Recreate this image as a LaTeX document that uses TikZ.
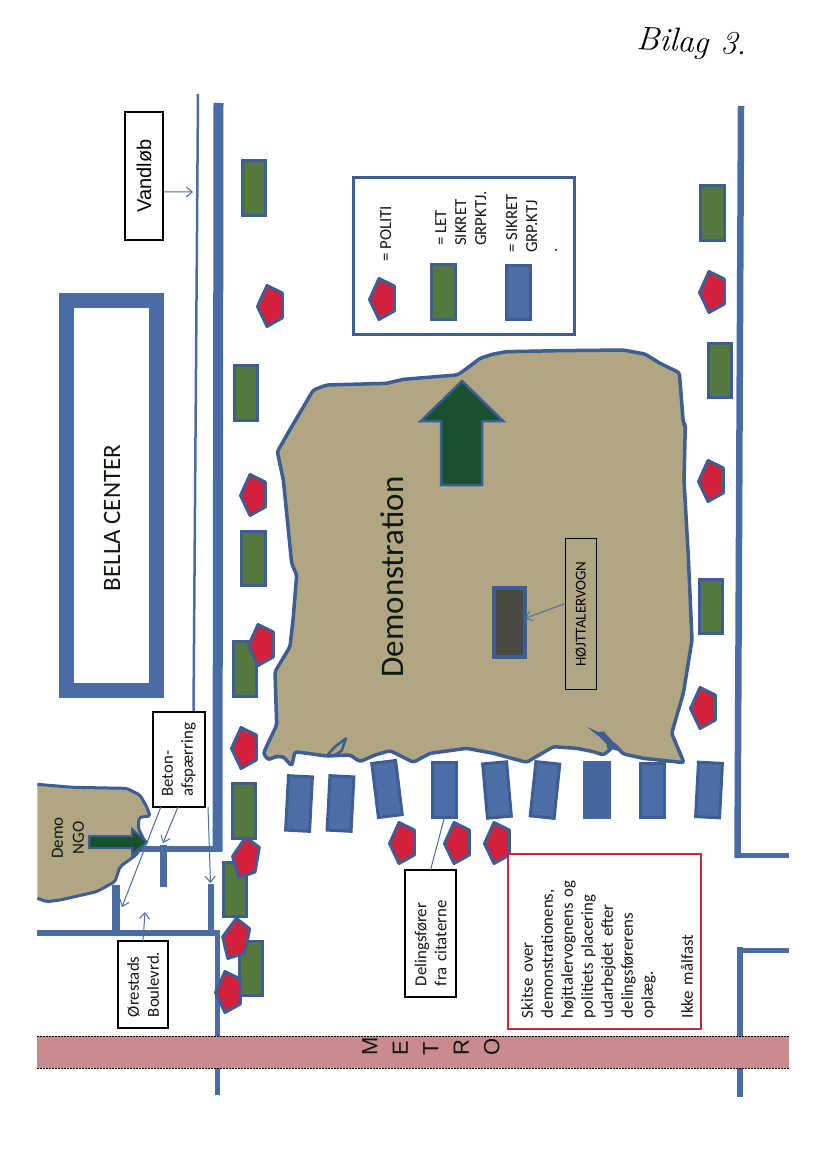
\documentclass[tikz,border=0pt]{standalone}
\usepackage{fontspec}
\setmainfont{Carlito}
\newfontfamily\arialfont{Liberation Sans}
\newfontfamily\handfont{Latin Modern Roman}
\usetikzlibrary{arrows.meta,calc}
\definecolor{bdr}{HTML}{3D5E94}
\definecolor{roadc}{HTML}{4A6CA6}
\definecolor{bluef}{HTML}{4E6EA9}
\definecolor{bluedk}{HTML}{46679D}
\definecolor{greenf}{HTML}{55783F}
\definecolor{redf}{HTML}{D4203A}
\definecolor{khaki}{HTML}{B0A782}
\definecolor{pinkf}{HTML}{C98B8E}
\definecolor{spkf}{HTML}{4A4A40}
\definecolor{arrowg}{HTML}{17512D}
\definecolor{redb}{HTML}{C5283F}
\definecolor{textd}{HTML}{10180F}
\tikzset{
  x=1pt,y=-1pt,
  road/.style={draw=roadc,line cap=butt},
  grn/.style={draw=bdr,fill=greenf,line width=3,minimum width=23.5,minimum height=54.5,inner sep=0,outer sep=0},
  blu/.style={draw=bdr,fill=bluef,line width=3,minimum width=24,minimum height=54.5,inner sep=0,outer sep=0},
  thinl/.style={draw=roadc,line width=1},
  thina/.style={draw=roadc,line width=1,-{Straight Barb[length=6pt,width=10pt]}},
  tbox/.style={draw=black,line width=1.5,fill=white,rotate=90,inner sep=0,outer sep=0,align=left,text=textd},
  body/.style={font=\fontsize{16.8}{20}\selectfont},
  pol/.pic={\draw[draw=bdr,fill=redf,line width=3,line join=round]
     (-3,-20.5)--(12.3,-13)--(12.3,12)--(-3,20.5)--(-12.5,0.5)--cycle;},
  blob/.style={draw=bdr,fill=khaki,line width=3.5,line join=round,rounded corners=2.5pt},
}
\begin{document}
\begin{tikzpicture}[x=1pt,y=-1pt]
\useasboundingbox (0,0) rectangle (826,1169);
\fill[white] (0,0) rectangle (826,1169);

% handwritten heading
\node[font=\handfont\itshape\fontsize{33}{33}\selectfont,text=black,rotate=-3] (bilag) at (692,44) {Bilag 3.};

% streets
\draw[road,line width=2.5] (198,94) -- (193.5,712);
\draw[road,line width=10] (218.5,103) -- (217.5,851);
\draw[road,line width=6] (137,849) -- (222,849);
\draw[road,line width=7] (163.5,845) -- (163.5,887);
\draw[road,line width=6.5] (211,884) -- (211,932);
\draw[road,line width=8] (116,885) -- (116,932);
\draw[road,line width=6] (37,933) -- (220,933);
\draw[road,line width=5] (217.5,930) -- (217.5,1095);
\draw[road,line width=6.5] (741,106) -- (737.5,858);
\draw[road,line width=5] (734.5,855.5) -- (789,855.5);
\draw[road,line width=6] (740,947) -- (740,1097);
\draw[road,line width=5] (737,950) -- (789,950);

% metro
\fill[pinkf] (37,1036) rectangle (789,1068);
\draw[black,line width=1,dash pattern=on 2pt off 1pt] (37,1036) -- (789,1036);
\draw[black,line width=1,dash pattern=on 2pt off 1pt] (37,1068) -- (789,1068);
\node[rotate=90,font=\arialfont\fontsize{22}{30.5}\selectfont,align=left,inner sep=0,text=textd] (metro) at (431,1046.5) {M\\E\\T\\R\\O};

% Bella Center
\node[draw=roadc,fill=white,line width=15,minimum width=90,minimum height=390,inner sep=0,outer sep=0] (bellaframe) at (111,495.5) {};
\node[rotate=90,font=\fontsize{25}{30}\selectfont,text=textd] (bella) at (112,518) {BELLA CENTER};

% Vandlob
\node[draw=black,line width=2,fill=white,rotate=90,minimum width=127,minimum height=38,inner sep=0,outer sep=0,font=\arialfont\fontsize{20}{24}\selectfont,text=black] (vand) at (144,176) {Vandløb};
\coordinate (vandt) at (193,192);
\draw[thina] ($(vand.south west)!0.375!(vand.south east)$) -- (vandt);

% main demonstration
\begin{scope}[shift={(260,330)},x=0.33333pt,y=-0.33333pt]
\draw[blob] (600,130)--(630,108)--(660,85)--(700,72)--(740,65)--(900,62)--(1090,60)--(1155,72)--(1200,100)--(1258,128)
  --(1270,280)--(1276,285)--(1272,450)--(1285,680)--(1296,930)--(1270,1090)--(1235,1210)--(1272,1298)
  --(1150,1285)--(1090,1272)--(1060,1240)--(1040,1250)--(1055,1255)--(1030,1275)--(1000,1265)--(950,1255)--(880,1250)--(800,1297)
  --(700,1270)--(620,1255)--(510,1270)--(460,1297)--(390,1262)--(345,1275)--(300,1295)--(270,1275)--(200,1278)--(105,1265)
  --(95,1308)--(70,1280)--(45,1280)--(25,1290)--(10,1270)--(50,1185)--(45,1025)--(90,950)--(100,860)--(110,735)--(95,700)--(85,600)--(70,450)--(52,365)--(95,290)--(160,180)
  --(200,165)--(380,160)--(430,148)--(590,135)--cycle;
\fill[bdr] (980,1190)--(1012,1205)--(1032,1205)--(1085,1265)--(1055,1258)--(1020,1222)--cycle;
\draw[bdr,line width=2.5,line join=round] (200,1278)--(225,1250)--(258,1225)--(245,1262)--(220,1278);
\end{scope}

% big arrow
\draw[draw=bdr,fill=arrowg,line width=2.5,line join=miter] (462,381)--(503,421)--(482,421)--(482,485)--(441,485)--(441,421)--(421,421)--cycle;

% Demonstration text
\node[rotate=90,font=\fontsize{33}{40}\selectfont,text=textd] (demo) at (392,577) {Demonstration};

% speaker van
\node[draw=bdr,fill=spkf,line width=4,minimum width=31,minimum height=69,inner sep=0,outer sep=0] (spk) at (509.5,622.5) {};
\node[draw=black,line width=1,rotate=90,minimum width=151,minimum height=31,inner sep=0,outer sep=0,font=\fontsize{15}{18}\selectfont,text=black] (hoj) at (581,614) {HØJTTALERVOGN};
\draw[thina] ($(hoj.north east)!0.43!(hoj.north west)$) -- ($(spk.north east)!0.44!(spk.south east)$);

% Demo NGO
\begin{scope}[shift={(30,700)},x=0.33333pt,y=-0.33333pt]
\fill[khaki] (22,253)--(130,262)--(290,265)--(330,285)--(350,320)--(360,348)--(327,352)--(325,385)--(345,425)--(318,465)--(270,500)--(255,545)--(200,575)--(90,600)--(50,605)--(22,595)--cycle;
\draw[bdr,line width=3,line join=round,rounded corners=2pt] (22,253)--(130,262)--(290,265)--(330,285)--(350,320)--(360,348)--(327,352)--(325,385)--(345,425)--(318,465)--(270,500)--(255,545)--(200,575)--(90,600)--(50,605)--(22,595);
\end{scope}
\node[rotate=90,align=center,font=\fontsize{17}{21}\selectfont,text=textd,inner sep=0] (ngo) at (68,838) {Demo\\NGO};
\draw[draw=bdr,fill=arrowg,line width=2,line join=miter] (147,842)--(132,829)--(132,836)--(89,836)--(89,848)--(132,848)--(132,855)--cycle;

% green vehicles
\node[grn] (g1) at (254,188) {};
\node[grn] (g2) at (246,393) {};
\node[grn] (g3) at (253.5,558.5) {};
\node[grn] (g4) at (245,669) {};
\node[grn] (g5) at (244,811) {};
\node[grn] (g6) at (235,889.5) {};
\node[grn] (g7) at (251,968.5) {};
\node[grn] (g8) at (712.5,213) {};
\node[grn] (g9) at (720,370.5) {};
\node[grn] (g10) at (711,606.5) {};

% blue vehicles
\node[blu,rotate=-3] (b1) at (299,803.5) {};
\node[blu,rotate=-3] (b2) at (340.5,803.5) {};
\node[blu,rotate=7] (b3) at (387,789) {};
\node[blu] (b4) at (444.5,790) {};
\node[blu,rotate=5] (b5) at (497,790) {};
\node[blu,rotate=-6] (b6) at (545,790) {};
\node[fill=bluedk,minimum width=28,minimum height=58,inner sep=0,outer sep=0] (b7) at (597,790) {};
\node[blu] (b8) at (652.5,790.5) {};
\node[blu,rotate=-3] (b9) at (709,790) {};

% police
\pic at (270,306) {pol};
\pic at (253,495) {pol};
\pic at (261,645) {pol};
\pic at (244,748) {pol};
\pic[rotate=-10] at (245,858) {pol};
\pic[rotate=-12] at (235,939) {pol};
\pic at (228,992) {pol};
\pic at (402,843) {pol};
\pic at (457,843) {pol};
\pic at (497,843) {pol};
\pic at (712,292) {pol};
\pic at (711,481) {pol};
\pic at (703,708) {pol};

% legend
\node[draw=bdr,fill=white,line width=3,minimum width=221,minimum height=157,inner sep=0,outer sep=0] (legend) at (464,256) {};
\pic at (382,299) {pol};
\node[grn] (lg) at (443.5,292) {};
\node[blu] (lb) at (518,292.5) {};
\node[rotate=90,anchor=base west,body,inner sep=0,text=textd] (lt1) at (391,262) {= POLITI};
\node[rotate=90,anchor=base west,body,align=left,inner sep=0,text=textd] (lt2) at (486,246) {= LET\\SIKRET\\GRPKTJ.};
\node[rotate=90,anchor=base west,body,align=left,inner sep=0,text=textd] (lt3) at (557,253) {= SIKRET\\GRP.KTJ\\.};

% note box
\node[draw=redb,line width=1.5,fill=white,rotate=90,minimum width=175,minimum height=193,inner sep=0,outer sep=0] (note) at (604.5,941.5) {};
\node[rotate=90,text width=153,inner sep=0,outer sep=0,align=left,body,text=textd] (notetext) at (607,941.5) {Skitse over\\demonstrationens,\\højttalervognens og\\politiets placering\\udarbejdet efter\\delingsførerens\\oplæg.\\[20pt]Ikke målfast};

% label boxes
\node[tbox,body,minimum width=95,minimum height=52,text width=74] (beton) at (179,759.5) {Beton-\\afspærring};
\node[tbox,body,minimum width=87,minimum height=50,text width=65] (orestad) at (143,984.5) {Ørestads\\Boulevrd.};
\node[tbox,body,minimum width=127,minimum height=51,text width=105] (deling) at (430.5,933.5) {Delingsfører\\fra citaterne};

% connectors
\coordinate (bt1) at (122,907);
\coordinate (bt2) at (163,843);
\coordinate (bt3) at (210.5,883);
\coordinate (ot) at (145,912);
\coordinate (bs3) at ($(beton.south west)+(3,0)$);
\draw[thina] ($(beton.north west)!0.15!(beton.south west)$) -- (bt1);
\draw[thina] ($(beton.north west)!0.48!(beton.south west)$) -- (bt2);
\draw[thina] (bs3) -- (bt3);
\draw[thina] (orestad.east) -- (ot);
\draw[thinl] (b4.south) -- (deling.east);
\end{tikzpicture}
\end{document}
